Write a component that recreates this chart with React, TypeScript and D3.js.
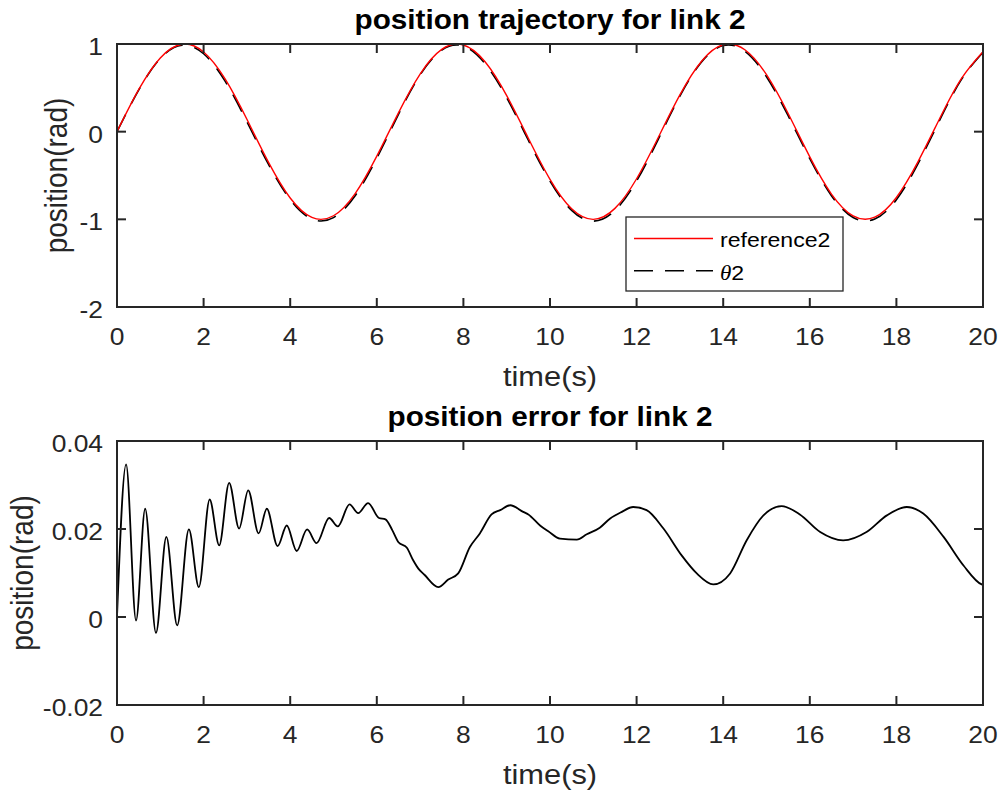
import * as d3 from "d3";

const W = 1001;
const H = 791;
const SX = 1.1; // glyphs in the picture look a little wide
const FONT = "'Liberation Sans', Arial, Helvetica, sans-serif";
const INK = "#262626";

const TOP = { left: 117, right: 983, top: 44, bottom: 307, labelX: 67 };
const BOT = { left: 117, right: 983, top: 441, bottom: 705, labelX: 33 };

// position trajectory (0.5 s steps)
const timeTop = [
  0, 0.5, 1, 1.5, 2, 2.5, 3, 3.5, 4, 4.5, 5, 5.5, 6, 6.5, 7, 7.5, 8, 8.5, 9, 9.5, 10,
  10.5, 11, 11.5, 12, 12.5, 13, 13.5, 14, 14.5, 15, 15.5, 16, 16.5, 17, 17.5, 18, 18.5, 19, 19.5, 20,
];
const reference2 = [
  0, 0.479, 0.841, 0.997, 0.909, 0.598, 0.141, -0.351, -0.757, -0.978, -0.959, -0.706, -0.279, 0.215,
  0.657, 0.938, 0.989, 0.798, 0.412, -0.075, -0.544, -0.88, -1.0, -0.875, -0.537, -0.066, 0.42, 0.804,
  0.991, 0.935, 0.65, 0.207, -0.288, -0.712, -0.961, -0.976, -0.751, -0.342, 0.15, 0.605, 0.913,
];
const theta2 = [
  0, 0.474, 0.836, 0.987, 0.889, 0.573, 0.113, -0.374, -0.775, -0.996, -0.98, -0.731, -0.302, 0.198,
  0.647, 0.931, 0.977, 0.776, 0.387, -0.098, -0.563, -0.898, -1.02, -0.898, -0.562, -0.087, 0.406, 0.796,
  0.983, 0.918, 0.626, 0.182, -0.309, -0.73, -0.979, -0.997, -0.776, -0.366, 0.132, 0.593, 0.906,
];

// position error
const timeErr = [
  0, 0.21, 0.44, 0.65, 0.9, 1.14, 1.39, 1.66, 1.89, 2.14, 2.36, 2.59, 2.82, 3.03, 3.27, 3.46, 3.71, 3.92,
  4.15, 4.39, 4.61, 4.9, 5.1, 5.37, 5.57, 5.8, 6.05, 6.2, 6.36, 6.5, 6.69, 6.84, 6.96, 7.1, 7.42, 7.65,
  7.88, 8.15, 8.38, 8.65, 8.85, 9.08, 9.38, 9.5, 9.77, 9.96, 10.23, 10.62, 10.85, 11.15, 11.39, 11.66,
  11.92, 12.23, 12.62, 13.04, 13.39, 13.77, 14.16, 14.54, 14.93, 15.35, 15.77, 16.24, 16.77, 17.31,
  17.78, 18.24, 18.62, 19.09, 19.55, 19.97, 20,
];
const error2 = [
  0, 0.0347, -0.0008, 0.0246, -0.0036, 0.0182, -0.0019, 0.0199, 0.0068, 0.0267, 0.0163, 0.0305, 0.0201,
  0.0288, 0.019, 0.0246, 0.0161, 0.0208, 0.015, 0.0199, 0.0168, 0.0225, 0.0206, 0.0256, 0.0236, 0.0259,
  0.0225, 0.0222, 0.0197, 0.017, 0.0158, 0.0129, 0.011, 0.0096, 0.0068, 0.0085, 0.0099, 0.0159, 0.019,
  0.0233, 0.0243, 0.0254, 0.0239, 0.0233, 0.0208, 0.0195, 0.0178, 0.0176, 0.0188, 0.0203, 0.0224, 0.0239,
  0.025, 0.0243, 0.0201, 0.014, 0.0099, 0.0074, 0.0099, 0.0174, 0.0231, 0.0252, 0.0233, 0.0193, 0.0174,
  0.0193, 0.0231, 0.025, 0.0235, 0.0182, 0.0117, 0.0074, 0.0073,
];

const xTicks = [0, 2, 4, 6, 8, 10, 12, 14, 16, 18, 20];
const yTicksTop = [-2, -1, 0, 1];
const yTicksBot = [-0.02, 0, 0.02, 0.04];
const yTickLabelsBot = ["-0.02", "0", "0.02", "0.04"];

const TICK = 9;

function T({ x, y, size, anchor = "middle", weight = "normal", fill = INK, rotate = false, children }: any) {
  return (
    <text
      transform={`translate(${x},${y}) scale(${SX},1)${rotate ? " rotate(-90)" : ""}`}
      fontFamily={FONT}
      fontSize={size}
      fontWeight={weight}
      textAnchor={anchor}
      fill={fill}
    >
      {children}
    </text>
  );
}

function Frame({ box, x, y, yTicks, yLabels, title }: any) {
  const midX = (box.left + box.right) / 2;
  const midY = (box.top + box.bottom) / 2;
  return (
    <g>
      {xTicks.map((t) => (
        <g key={`x${t}`}>
          <line x1={x(t)} x2={x(t)} y1={box.bottom} y2={box.bottom - TICK} stroke={INK} strokeWidth={2} />
          <line x1={x(t)} x2={x(t)} y1={box.top} y2={box.top + TICK} stroke={INK} strokeWidth={2} />
          <T x={x(t)} y={box.bottom + 38} size={24}>{t}</T>
        </g>
      ))}
      {yTicks.map((t: number, i: number) => (
        <g key={`y${t}`}>
          <line x1={box.left} x2={box.left + TICK} y1={y(t)} y2={y(t)} stroke={INK} strokeWidth={2} />
          <line x1={box.right} x2={box.right - TICK} y1={y(t)} y2={y(t)} stroke={INK} strokeWidth={2} />
          <T x={box.left - 14} y={y(t) + 11} size={24} anchor="end">{yLabels[i]}</T>
        </g>
      ))}
      <rect
        x={box.left}
        y={box.top}
        width={box.right - box.left}
        height={box.bottom - box.top}
        fill="none"
        stroke={INK}
        strokeWidth={2}
      />
      <T x={midX} y={box.top - 15} size={27} weight="bold" fill="#000">{title}</T>
      <T x={midX} y={box.bottom + 79} size={28}>time(s)</T>
      <T x={box.labelX} y={midY} size={28} rotate>position(rad)</T>
    </g>
  );
}

export default function App() {
  const xTop = d3.scaleLinear().domain([0, 20]).range([TOP.left, TOP.right]);
  const yTop = d3.scaleLinear().domain([-2, 1]).range([TOP.bottom, TOP.top]);
  const xBot = d3.scaleLinear().domain([0, 20]).range([BOT.left, BOT.right]);
  const yBot = d3.scaleLinear().domain([-0.02, 0.04]).range([BOT.bottom, BOT.top]);

  const topLine = (vals: number[]) =>
    d3
      .line<number>()
      .x((_, i) => xTop(timeTop[i]))
      .y((v) => yTop(v))
      .curve(d3.curveNatural)(vals) || "";

  const errPath =
    d3
      .line<number>()
      .x((_, i) => xBot(timeErr[i]))
      .y((v) => yBot(v))
      .curve(d3.curveMonotoneX)(error2) || "";

  const leg = { x: 626, y: 217, w: 217, h: 74 };

  return (
    <svg
      width={W}
      height={H}
      viewBox={`0 0 ${W} ${H}`}
      style={{ position: "absolute", left: 0, top: 0, background: "#fff" }}
    >
      <rect width={W} height={H} fill="#fff" />

      <defs>
        <clipPath id="clipTop">
          <rect x={TOP.left} y={TOP.top - 2} width={TOP.right - TOP.left} height={TOP.bottom - TOP.top + 4} />
        </clipPath>
      </defs>

      <g clipPath="url(#clipTop)">
        <path d={topLine(theta2)} fill="none" stroke="#000" strokeWidth={1.6} strokeDasharray="19 12" />
        <path d={topLine(reference2)} fill="none" stroke="#ff0000" strokeWidth={1.4} />
      </g>
      <Frame box={TOP} x={xTop} y={yTop} yTicks={yTicksTop} yLabels={yTicksTop.map(String)} title="position trajectory for link 2" />

      {/* legend */}
      <rect x={leg.x} y={leg.y} width={leg.w} height={leg.h} fill="#fff" stroke={INK} strokeWidth={1.3} />
      <line x1={634} x2={713} y1={238.5} y2={238.5} stroke="#ff0000" strokeWidth={1.4} />
      <T x={720} y={246.5} size={21} anchor="start" fill="#000">reference2</T>
      <line x1={634} x2={713} y1={270.7} y2={270.7} stroke="#000" strokeWidth={1.5} strokeDasharray="19 12" />
      <T x={720} y={280} size={21} anchor="start" fill="#000">
        <tspan fontFamily="'Liberation Serif', 'Times New Roman', serif" fontStyle="italic">θ</tspan>2
      </T>

      <path d={errPath} fill="none" stroke="#000" strokeWidth={1.8} />
      <Frame box={BOT} x={xBot} y={yBot} yTicks={yTicksBot} yLabels={yTickLabelsBot} title="position error for link 2" />
    </svg>
  );
}
